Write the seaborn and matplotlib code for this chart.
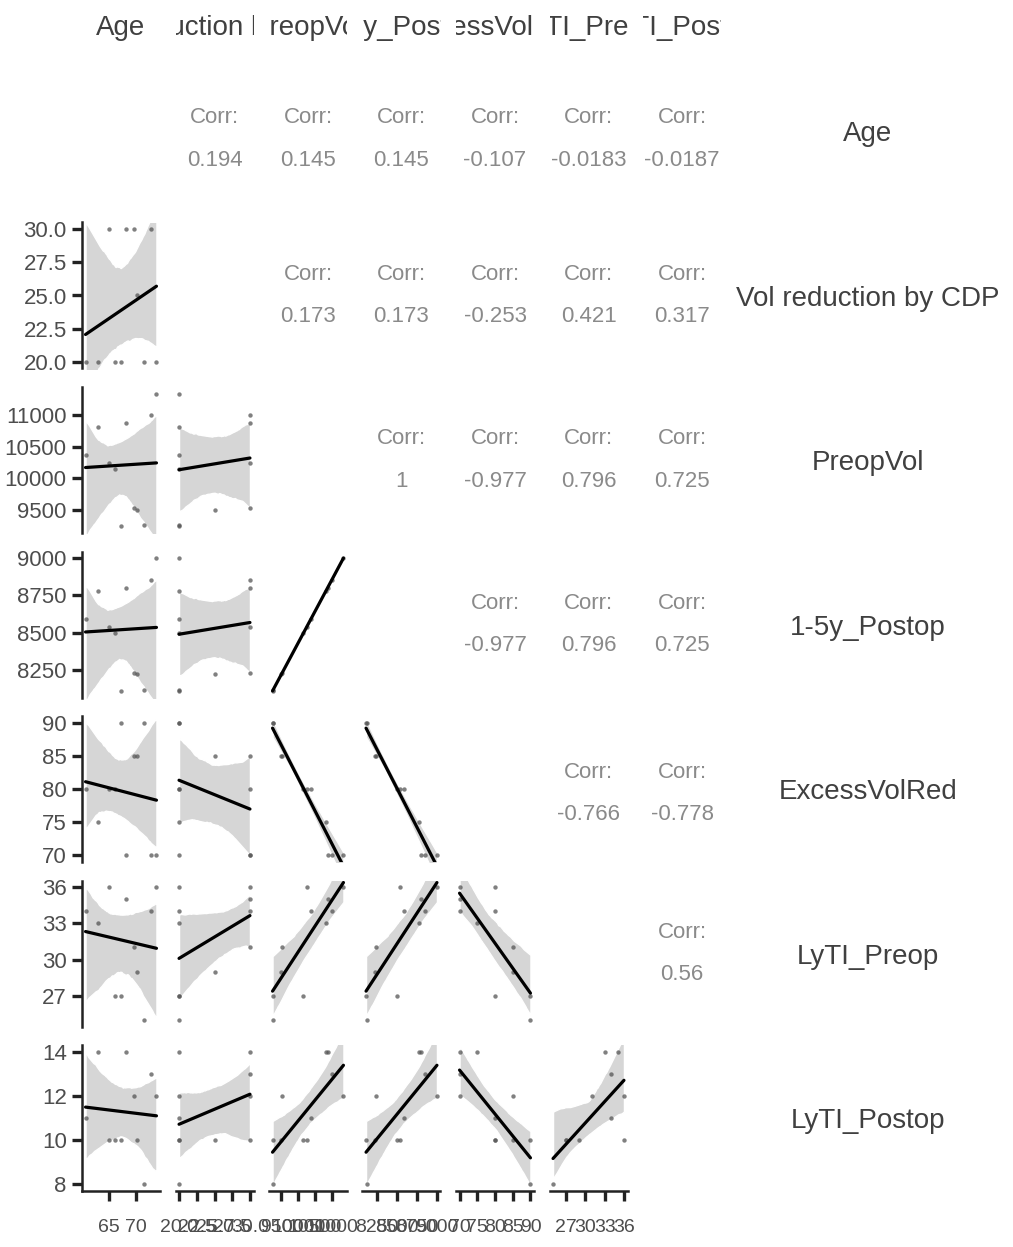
import numpy as np
import pandas as pd
import matplotlib
matplotlib.use("Agg")
import matplotlib.pyplot as plt
import seaborn as sns

sns.set_theme(style="white")
plt.rcParams['font.family'] = ['Liberation Sans', 'DejaVu Sans']

# ---------------- data ----------------
labels = ["Age", "Vol reduction by CDP", "PreopVol", "1-5y_Postop",
          "ExcessVolRed", "LyTI_Preop", "LyTI_Postop"]

age        = [60.5, 62.8, 65.0, 66.1, 67.2, 68.1, 69.6, 70.2, 71.5, 72.8, 73.9]
vol_red    = [20, 20, 30, 20, 20, 30, 30, 25, 20, 30, 20]
preop_vol  = [10370, 10820, 10250, 10150, 9240, 10870, 9530, 9500, 9260, 11000, 11340]
postop_vol = [8589, 8780, 8538, 8496, 8110, 8801, 8233, 8220, 8118, 8856, 9000]
excess_red = [80, 75, 80, 80, 90, 70, 85, 85, 90, 70, 70]
lyti_pre   = [34, 33, 36, 27, 27, 35, 31, 29, 25, 34, 36]
lyti_post  = [11, 14, 10, 10, 10, 14, 12, 10, 8, 13, 12]

# correlation labels of the upper panels, row by row
corr_row0 = ["0.194", "0.145", "0.145", "-0.107", "-0.0183", "-0.0187"]
corr_row1 = ["0.173", "0.173", "-0.253", "0.421", "0.317"]
corr_row2 = ["1", "-0.977", "0.796", "0.725"]
corr_row3 = ["-0.977", "0.796", "0.725"]
corr_row4 = ["-0.766", "-0.778"]
corr_row5 = ["0.56"]
corr_rows = [corr_row0, corr_row1, corr_row2, corr_row3, corr_row4, corr_row5]

# tick values per variable
ticks_age    = [65, 70]
ticks_volred = [20.0, 22.5, 25.0, 27.5, 30.0]
ticks_preop  = [9500, 10000, 10500, 11000]
ticks_postop = [8250, 8500, 8750, 9000]
ticks_excess = [70, 75, 80, 85, 90]
ticks_lypre  = [27, 30, 33, 36]
ticks_lypost = [8, 10, 12, 14]
tick_sets = [ticks_age, ticks_volred, ticks_preop, ticks_postop,
             ticks_excess, ticks_lypre, ticks_lypost]
tick_fmt = ["{:.0f}", "{:.1f}", "{:.0f}", "{:.0f}", "{:.0f}", "{:.0f}", "{:.0f}"]

df = pd.DataFrame({
    labels[0]: age, labels[1]: vol_red, labels[2]: preop_vol,
    labels[3]: postop_vol, labels[4]: excess_red, labels[5]: lyti_pre,
    labels[6]: lyti_post,
})

# ---------------- layout ----------------
W, H = 1013, 1247
fig = plt.figure(figsize=(W / 100, H / 100), dpi=100)
fig.patch.set_facecolor("white")

n = len(labels)
col_w, row_h = 78, 146


def col_left(j):
    return 82 + 93.5 * j


def row_center(i):
    return 131 + 164.5 * i


def lims(var):
    v = df[var]
    r = v.max() - v.min()
    return v.min() - 0.05 * r, v.max() + 0.05 * r


strip_col = "#404040"
tick_col = "#4d4d4d"
corr_col = "#8a8a8a"

for i in range(n):
    for j in range(n):
        if i == j:
            continue
        rect = [col_left(j) / W, 1 - (row_center(i) + row_h / 2) / H,
                col_w / W, row_h / H]
        ax = fig.add_axes(rect)
        ax.set_facecolor("white")
        for s in ax.spines.values():
            s.set_visible(False)
        if i < j:
            ax.set_xticks([]); ax.set_yticks([])
            ax.set_xlim(0, 1); ax.set_ylim(0, 1)
            txt = corr_rows[i][j - i - 1]
            shift = -0.055 if i == 0 else (-0.03 if i == 4 else 0.0)
            ax.text(0.5, 0.5 + 0.145 + shift, "Corr:", transform=ax.transAxes,
                    ha="center", va="center", fontsize=16, color=corr_col)
            ax.text(0.5, 0.5 - 0.145 + shift, txt, transform=ax.transAxes,
                    ha="center", va="center", fontsize=16, color=corr_col)
            continue
        xv, yv = labels[j], labels[i]
        sns.regplot(data=df, x=xv, y=yv, ax=ax, ci=95, n_boot=1000, seed=3,
                    color="black", truncate=True,
                    scatter_kws=dict(s=10, color="#555555", alpha=0.75,
                                     linewidths=0),
                    line_kws=dict(color="black", lw=2.3))
        for coll in ax.collections:
            if isinstance(coll, matplotlib.collections.PolyCollection):
                coll.set_facecolor("#d6d6d6"); coll.set_alpha(1)
                coll.set_zorder(0.5)
        ax.set_xlim(*lims(xv))
        ax.set_ylim(*lims(yv))
        ax.set_xlabel(""); ax.set_ylabel("")
        ax.tick_params(left=False, bottom=False, labelleft=False,
                       labelbottom=False)
        if j == 0:
            ax.spines["left"].set_visible(True)
            ax.spines["left"].set_color("#222222")
            ax.spines["left"].set_linewidth(1.8)
            ax.set_yticks(tick_sets[i])
            ax.set_yticklabels([tick_fmt[i].format(t) for t in tick_sets[i]])
            ax.tick_params(axis="y", left=True, labelleft=True, length=7.5,
                           width=2.4, color="#222222", labelsize=16,
                           labelcolor=tick_col, pad=3.5)
        else:
            ax.set_yticks([])
        if i == n - 1:
            ax.spines["bottom"].set_visible(True)
            ax.spines["bottom"].set_color("#222222")
            ax.spines["bottom"].set_linewidth(1.8)
            ax.set_xticks(tick_sets[j])
            ax.set_xticklabels([tick_fmt[j].format(t) for t in tick_sets[j]])
            ax.tick_params(axis="x", bottom=True, labelbottom=True, length=7,
                           width=2.4, color="#222222", labelsize=14,
                           labelcolor=tick_col, pad=13)
        else:
            ax.set_xticks([])

# top strips (clipped to column width)
for j in range(n):
    sax = fig.add_axes([col_left(j) / W, 1 - 50 / H, col_w / W, 44 / H])
    sax.axis("off")
    sax.text(0.5, 0.5, labels[j], transform=sax.transAxes, ha="center",
             va="center", fontsize=20, color=strip_col, clip_on=True)

# right strips
for i in range(n):
    fig.text(868 / W, 1 - (row_center(i) + 3) / H, labels[i], ha="center",
             va="center", fontsize=20, color=strip_col)

fig.savefig("out.png", dpi=100, facecolor="white")
